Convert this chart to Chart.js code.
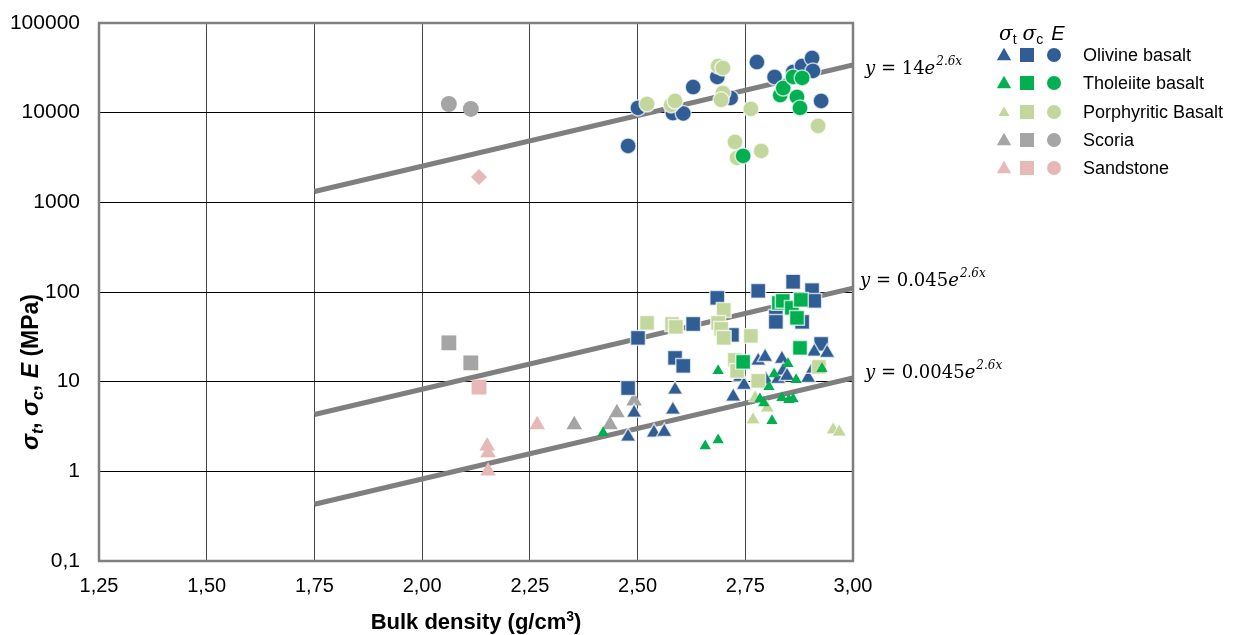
<!DOCTYPE html>
<html><head><meta charset="utf-8">
<script src="https://cdn.jsdelivr.net/npm/chart.js@4"></script>
<style>html,body{margin:0;padding:0;background:#fff}canvas{display:block}</style>
</head><body>
<canvas id="c" width="1248" height="635"></canvas>
<script>
// ---- axis ticks ----
const xTicks = [1.25, 1.5, 1.75, 2, 2.25, 2.5, 2.75, 3];
const yTicks = [0.1, 1, 10, 100, 1000, 10000, 100000];

// ---- series ----
const seriesNames  = ['Olivine basalt', 'Tholeiite basalt', 'Porphyritic Basalt', 'Scoria', 'Sandstone'];
const seriesColors = ['#2F5D94', '#00B050', '#C3D69B', '#A5A5A5', '#E6B9B8'];

// [bulk density, MPa]
const olivineT = [[2.478,2.43],[2.492,4.5],[2.538,2.7],[2.562,2.75],[2.582,4.85],[2.587,8.1],[2.722,6.8],[2.738,11.3],[2.747,9.2],[2.780,17.1],[2.796,18.9],[2.798,10.5],[2.826,10.7],[2.835,17.9],[2.838,13.2],[2.847,11.6],[2.896,11.0],[2.907,13.9],[2.910,21.5],[2.940,20.9]];
const olivineC = [[2.478,8.5],[2.501,30.8],[2.587,18.4],[2.606,15.0],[2.629,44],[2.685,86],[2.719,33.2],[2.780,103],[2.821,52.7],[2.821,46.4],[2.861,130],[2.882,46.4],[2.905,105],[2.910,79.6],[2.926,26.4]];
const olivineE = [[2.478,4250],[2.501,11300],[2.582,9900],[2.606,9800],[2.629,19300],[2.685,25000],[2.716,14600],[2.777,36700],[2.818,25000],[2.861,28400],[2.882,33200],[2.905,40700],[2.907,29200],[2.926,13500]];

const tholeiiteT = [[2.420,2.7],[2.657,1.92],[2.687,2.24],[2.687,13.2],[2.784,6.4],[2.793,5.8],[2.805,8.75],[2.817,12.2],[2.812,3.66],[2.835,6.6],[2.849,15.8],[2.851,6.3],[2.861,6.4],[2.868,10.5],[2.928,13.9]];
const tholeiiteC = [[2.828,75.5],[2.837,79.6],[2.858,66.5],[2.870,51.4],[2.879,81.7],[2.877,23.8],[2.745,16.6]];
const tholeiiteE = [[2.831,15700],[2.838,18800],[2.861,25000],[2.882,24400],[2.870,15000],[2.877,11300],[2.745,3290]];

const porphT = [[2.768,3.75],[2.773,6.6],[2.801,5.1],[2.954,2.9],[2.968,2.75]];
const porphC = [[2.522,45.2],[2.580,44],[2.589,40.8],[2.700,63],[2.687,45.2],[2.694,38.8],[2.700,30.8],[2.763,32.4],[2.726,17.5],[2.731,13.2],[2.780,10.2],[2.921,14.6]];
const porphE = [[2.522,12500],[2.578,12200],[2.587,13500],[2.687,33200],[2.698,31500],[2.698,16600],[2.694,13900],[2.763,11000],[2.726,4710],[2.731,3130],[2.787,3740],[2.919,7110]];

const scoriaT = [[2.353,3.3],[2.436,3.3],[2.452,4.5],[2.492,6.1]];
const scoriaC = [[2.062,27.1],[2.113,16.2]];
const scoriaE = [[2.062,12500],[2.113,11000]];

const sandT = [[2.151,1.92],[2.153,1.61],[2.153,1.01],[2.267,3.3]];
const sandC = [[2.132,8.7]];
const sandE = [[2.132,1920]];

// trend lines (endpoints)
const trendX     = [1.75, 3.00];
const trendUpper = [1320, 34000];
const trendMid   = [4.3, 110];
const trendLow   = [0.43, 11];
const trendLabels = ['14', '0.045', '0.0045'];

const toXY = a => a.map(p => ({x: p[0], y: p[1]}));
const rim = 'rgba(255,255,255,0.7)';

function pts(label, data, color, style, r, bw, order) {
  return {
    type: 'scatter', label, data: toXY(data),
    backgroundColor: color, borderColor: bw ? rim : color, borderWidth: bw,
    pointStyle: style, pointRadius: r, pointHoverRadius: r, order
  };
}
function trend(ys) {
  return {
    type: 'line', data: trendX.map((x, i) => ({x, y: ys[i]})),
    borderColor: '#7F7F7F', borderWidth: 5, pointRadius: 0, fill: false, order: 100
  };
}

const datasets = [
  trend(trendUpper), trend(trendMid), trend(trendLow),
  pts('sandT', sandT, seriesColors[4], 'triangle', 9, 0, 5),
  pts('sandC', sandC, seriesColors[4], 'rect', 10.5, 0, 5),
  pts('sandE', sandE, seriesColors[4], 'rectRot', 8, 0, 5),
  pts('scoriaT', scoriaT, seriesColors[3], 'triangle', 9, 0, 5),
  pts('scoriaC', scoriaC, seriesColors[3], 'rect', 10.5, 0, 5),
  pts('scoriaE', scoriaE, seriesColors[3], 'circle', 8, 0, 5),
  pts('olT', olivineT, seriesColors[0], 'triangle', 9, 1.5, 4),
  pts('olC', olivineC, seriesColors[0], 'rect', 10.5, 1.5, 4),
  pts('olE', olivineE, seriesColors[0], 'circle', 8, 1.5, 4),
  pts('poT', porphT, seriesColors[2], 'triangle', 8, 1, 3),
  pts('poC', porphC, seriesColors[2], 'rect', 10.5, 1.5, 3),
  pts('poE', porphE, seriesColors[2], 'circle', 8, 1.5, 3),
  pts('thT', tholeiiteT, seriesColors[1], 'triangle', 6.5, 0, 2),
  pts('thC', tholeiiteC, seriesColors[1], 'rect', 10.5, 1.5, 2),
  pts('thE', tholeiiteE, seriesColors[1], 'circle', 8, 1.5, 2)
];

function drawRich(ctx, parts, x, y) {
  let cx = x;
  parts.forEach(p => {
    ctx.font = p[1];
    ctx.fillText(p[0], cx, y + (p[2] || 0));
    cx += ctx.measureText(p[0]).width + (p[3] || 0);
  });
  return cx - x;
}
function richWidth(ctx, parts) {
  let w = 0;
  parts.forEach(p => { ctx.font = p[1]; w += ctx.measureText(p[0]).width + (p[3] || 0); });
  return w;
}
function shape(ctx, kind, x, y, s, color) {
  ctx.fillStyle = color;
  ctx.beginPath();
  if (kind === 'tri') {
    ctx.moveTo(x, y - s * 0.55); ctx.lineTo(x + s * 0.55, y + s * 0.4); ctx.lineTo(x - s * 0.55, y + s * 0.4);
    ctx.closePath();
  } else if (kind === 'sq') {
    ctx.rect(x - s / 2, y - s / 2, s, s);
  } else {
    ctx.arc(x, y, s / 2, 0, Math.PI * 2);
  }
  ctx.fill();
}

const decor = {
  id: 'decor',
  beforeDatasetsDraw(chart) {
    const {ctx, chartArea: a} = chart;
    ctx.save();
    ctx.strokeStyle = '#7F7F7F';
    ctx.lineWidth = 2.5;
    ctx.strokeRect(a.left, a.top, a.right - a.left, a.bottom - a.top);
    ctx.restore();
  },
  afterDraw(chart) {
    const {ctx} = chart;
    const xs = chart.scales.x, ys = chart.scales.y;
    ctx.save();
    ctx.fillStyle = '#000';
    ctx.textBaseline = 'alphabetic';
    ctx.textAlign = 'left';

    // equations
    const serif = 'DejaVu Serif';
    const trends = [trendUpper, trendMid, trendLow];
    const eqDy = [9, -2, 0];
    const eqDx = [12, 7, 12];
    trends.forEach((t, i) => {
      const px = xs.getPixelForValue(trendX[1]) + eqDx[i];
      const py = ys.getPixelForValue(t[1]) + eqDy[i];
      drawRich(ctx, [
        ['y', 'italic 18px ' + serif, 0, 0],
        [' = ' + trendLabels[i], '18px ' + serif, 0, 0],
        ['e', 'italic 18px ' + serif, 0, 1],
        ['2.6x', 'italic 12px ' + serif, -9, 0]
      ], px, py);
    });

    // x title
    const xt = [
      ['Bulk density (g/cm', 'bold 22px "Liberation Sans"', 0],
      ['3', 'bold 14px "Liberation Sans"', -8],
      [')', 'bold 22px "Liberation Sans"', 0]
    ];
    const xw = richWidth(ctx, xt);
    drawRich(ctx, xt, (chart.chartArea.left + chart.chartArea.right) / 2 - xw / 2, 629);

    // y title
    const yt = [
      ['σ', 'bold italic 24px "Liberation Sans"', 0],
      ['t', 'bold italic 16px "Liberation Sans"', 5],
      [', ', 'bold 23px "Liberation Sans"', 0],
      ['σ', 'bold italic 24px "Liberation Sans"', 0],
      ['c', 'bold italic 16px "Liberation Sans"', 5],
      [', ', 'bold 23px "Liberation Sans"', 0],
      ['E', 'bold italic 23px "Liberation Sans"', 0],
      [' (MPa)', 'bold 23px "Liberation Sans"', 0]
    ];
    const yw = richWidth(ctx, yt);
    ctx.save();
    ctx.translate(38, 372);
    ctx.rotate(-Math.PI / 2);
    drawRich(ctx, yt, -yw / 2, 0);
    ctx.restore();

    // legend header
    ctx.fillStyle = '#000';
    drawRich(ctx, [
      ['σ', 'italic 20px "DejaVu Serif"', 0, 0],
      ['t', '14px "Liberation Sans"', 4, 6],
      ['σ', 'italic 20px "DejaVu Serif"', 0, 0],
      ['c', '14px "Liberation Sans"', 4, 8],
      ['E', 'italic 20px "Liberation Sans"', 0, 0]
    ], 999, 40);

    // legend rows
    const rowY = [55, 83, 112, 140, 168];
    seriesNames.forEach((n, i) => {
      const y = rowY[i];
      const triS = i === 2 ? 10 : 13;
      shape(ctx, 'tri', 1004, y, triS, seriesColors[i]);
      shape(ctx, 'sq', 1027, y, 14, seriesColors[i]);
      shape(ctx, 'ci', 1054, y, 14, seriesColors[i]);
      ctx.fillStyle = '#000';
      ctx.font = '18px "Liberation Sans"';
      ctx.textBaseline = 'middle';
      ctx.fillText(n, 1083, y + 1);
      ctx.textBaseline = 'alphabetic';
    });
    ctx.restore();
  }
};

new Chart(document.getElementById('c'), {
  type: 'scatter',
  data: {datasets},
  options: {
    responsive: false,
    animation: false,
    devicePixelRatio: 1,
    layout: {padding: {top: 23, right: 395, left: 0, bottom: 0}},
    plugins: {legend: {display: false}, tooltip: {enabled: false}, title: {display: false}},
    scales: {
      x: {
        type: 'linear', min: 1.25, max: 3.0,
        afterBuildTicks: s => { s.ticks = xTicks.map(v => ({value: v})); },
        afterFit: s => { s.height = 74; s.paddingLeft = 0; s.paddingRight = 0; },
        grid: {color: '#444', lineWidth: 1, drawTicks: false},
        border: {display: false},
        ticks: {
          padding: 13, color: '#000',
          font: {family: 'Liberation Sans', size: 20},
          callback: v => Number(v).toFixed(2).replace('.', ',')
        }
      },
      y: {
        type: 'logarithmic', min: 0.1, max: 100000,
        afterBuildTicks: s => { s.ticks = yTicks.map(v => ({value: v})); },
        afterFit: s => { s.width = 99; s.paddingTop = 0; s.paddingBottom = 0; },
        grid: {color: '#000', lineWidth: 1, drawTicks: false},
        border: {display: false},
        ticks: {
          padding: 19, color: '#000',
          font: {family: 'Liberation Sans', size: 21},
          callback: v => String(v).replace('.', ',')
        }
      }
    }
  },
  plugins: [decor]
});
</script>
</body></html>
